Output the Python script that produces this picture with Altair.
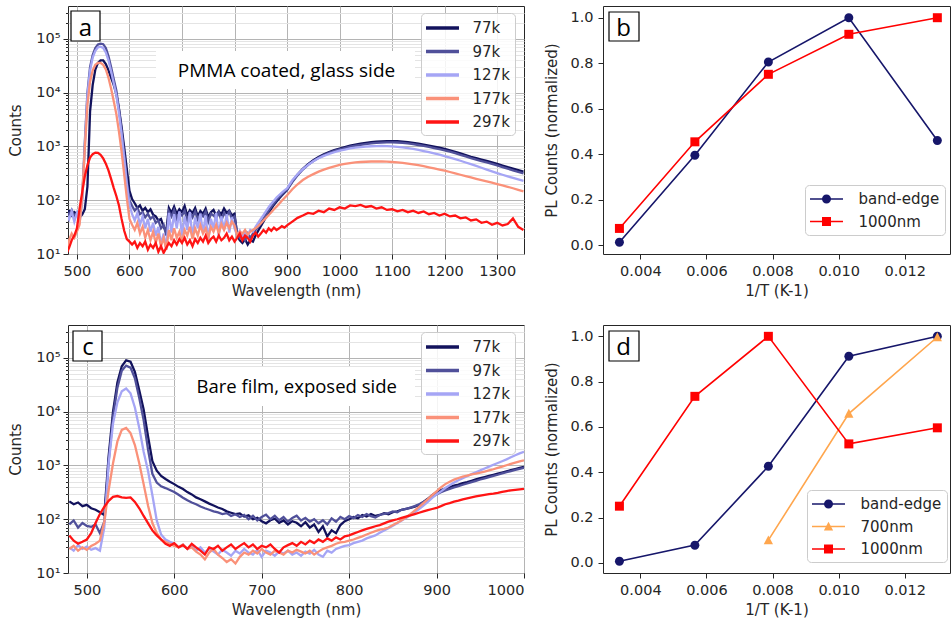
import altair as alt
import pandas as pd

# ---------------- spectra (panels a and c) ----------------
TEMPS = ["77k", "97k", "127k", "177k", "297k"]
SPEC_COLORS = ["#12125c", "#50509a", "#a5a5f5", "#fa9179", "#ff1414"]

WL_A = list(range(480, 901, 5)) + list(range(910, 1351, 10))

A77 = [58, 63, 52, 60, 55, 48, 54, 68, 180, 4500,
       14000, 27000, 36000, 40000, 40000, 34000, 26000, 19000, 14000, 9500,
       5000, 2300, 950, 380, 150, 105, 88, 72, 80, 64,
       72, 60, 68, 54, 50, 42, 45, 32, 26, 72,
       58, 76, 56, 68, 60, 78, 52, 65, 58, 72,
       50, 63, 56, 70, 48, 60, 66, 52, 62, 55,
       70, 58, 64, 52, 56, 22, 18, 16, 19, 15,
       18, 17, 22, 27, 33, 40, 49, 58, 70, 82,
       95, 108, 122, 138, 155,
       225, 300, 385, 470, 555, 640, 715, 790, 860, 915,
       975, 1035, 1085, 1130, 1165, 1200, 1225, 1245, 1260, 1262,
       1250, 1232, 1205, 1165, 1125, 1082, 1035, 992, 948, 900,
       850, 795, 742, 690, 642, 605, 570, 538, 505, 476,
       442, 412, 386, 362, 340]
A97 = [60, 54, 66, 50, 58, 44, 110, 1200, 10000, 30000,
       50000, 68000, 79000, 82000, 80000, 68000, 48000, 30000, 18000, 11000,
       5000, 2000, 700, 220, 100, 78, 64, 72, 55, 60,
       48, 56, 45, 50, 38, 42, 30, 35, 22, 62,
       50, 66, 45, 58, 52, 64, 42, 58, 48, 62,
       44, 55, 50, 62, 40, 56, 52, 46, 60, 42,
       58, 50, 62, 45, 50, 25, 20, 22, 18, 24,
       20, 24, 28, 32, 38, 45, 54, 64, 76, 88,
       102, 115, 128, 143, 158,
       218, 292, 372, 455, 535, 615, 690, 760, 825, 880,
       935, 990, 1035, 1075, 1110, 1140, 1162, 1180, 1192, 1195,
       1185, 1168, 1140, 1105, 1065, 1022, 978, 935, 892, 848,
       800, 750, 700, 652, 606, 568, 535, 504, 474, 445,
       414, 386, 360, 336, 315]
A127 = [55, 44, 62, 40, 58, 38, 90, 1000, 9000, 26000,
        45000, 60000, 70000, 72000, 68000, 56000, 40000, 25000, 15000, 9000,
        4200, 1700, 600, 200, 85, 55, 42, 58, 35, 50,
        30, 45, 26, 38, 22, 32, 15, 24, 12, 58,
        25, 55, 30, 62, 22, 50, 28, 60, 20, 48,
        30, 56, 24, 52, 18, 45, 30, 58, 22, 50,
        28, 55, 25, 48, 30, 22, 27, 20, 25, 22,
        28, 26, 32, 38, 45, 53, 63, 74, 86, 98,
        112, 125, 138, 152, 166,
        235, 305, 378, 455, 532, 603, 668, 730, 786, 836,
        878, 918, 950, 976, 995, 1010, 1018, 1020, 1012, 1000,
        982, 960, 932, 900, 862, 822, 782, 742, 702, 662,
        622, 582, 542, 504, 468, 434, 402, 372, 345, 320,
        298, 278, 260, 244, 230]
A177 = [11, 18, 24, 20, 26, 35, 120, 900, 6000, 16000,
        26000, 33000, 36000, 36000, 33000, 27000, 19000, 12000, 7000, 4000,
        1900, 800, 300, 110, 45, 35, 28, 38, 24, 32,
        20, 28, 18, 26, 16, 24, 14, 20, 12, 28,
        18, 30, 20, 26, 17, 28, 22, 32, 19, 30,
        22, 34, 24, 30, 20, 32, 26, 35, 24, 36,
        28, 38, 30, 40, 34, 22, 26, 24, 28, 23,
        26, 28, 30, 33, 37, 42, 47, 53, 60, 68,
        76, 86, 98, 110, 124,
        160, 198, 238, 274, 306, 340, 370, 400, 428, 455,
        475, 492, 505, 514, 520, 525, 527, 525, 521, 514,
        505, 494, 480, 465, 448, 430, 410, 391, 372, 354,
        335, 316, 298, 281, 265, 250, 237, 224, 212, 200,
        189, 178, 167, 156, 146]
A297 = [10, 13, 18, 22, 30, 70, 140, 280, 450, 620,
        720, 770, 760, 700, 600, 480, 360, 250, 170, 120,
        80, 45, 27, 19, 17, 15, 17, 13, 16, 14,
        17, 12, 15, 13, 16, 11, 14, 10.5, 13, 16,
        14, 18, 15, 19, 16, 20, 15, 18, 14, 19,
        16, 20, 17, 22, 16, 19, 21, 17, 22, 18,
        20, 24, 18, 21, 17, 20, 24, 18, 22, 20,
        17, 22, 25, 21, 24, 28, 25, 30, 27, 31,
        28, 30, 33, 31, 34,
        40, 47, 52, 58, 56, 64, 60, 70, 66, 74,
        70, 80, 78, 82, 75, 78, 70, 74, 66, 68,
        62, 66, 60, 64, 58, 62, 55, 58, 52, 56,
        50, 52, 46, 48, 42, 44, 38, 40, 35, 38,
        34, 36, 46, 32, 28]

WL_C = list(range(480, 1001, 5))

C77 = [215, 190, 205, 175, 185, 160, 150, 135, 120, 1500,
       10000, 35000, 70000, 90000, 85000, 55000, 25000, 11000, 3500, 1200,
       800, 640, 560, 500, 450, 400, 365, 320, 290, 255,
       235, 215, 195, 180, 165, 155, 140, 132, 125, 128,
       112, 118, 100, 106, 92, 84, 96, 102, 86, 95,
       80, 92, 86, 74, 88, 70, 80, 58, 74, 48,
       62, 55, 78, 92, 100, 110, 104, 120, 112, 125,
       115, 120, 130, 124, 135, 140, 150, 156, 162, 172,
       185, 210, 240, 280, 320, 350, 372, 395, 420, 440,
       470, 490, 520, 550, 580, 610, 640, 672, 705, 740,
       780, 820, 860, 900, 940]
C97 = [80, 95, 70, 85, 75, 72, 80, 55, 90, 1200,
       8000, 28000, 58000, 72000, 66000, 42000, 18000, 7000, 2000, 700,
       480, 410, 380, 350, 320, 285, 252, 225, 205, 190,
       172, 160, 150, 140, 134, 125, 130, 115, 124, 110,
       120, 100, 116, 95, 110, 122, 100, 116, 96, 110,
       90, 106, 116, 95, 106, 90, 100, 84, 96, 80,
       104, 90, 110, 100, 115, 105, 120, 110, 125, 114,
       108, 120, 126, 130, 140, 135, 150, 155, 165, 175,
       190, 210, 230, 258, 290, 318, 345, 368, 390, 412,
       438, 462, 490, 518, 548, 578, 608, 640, 672, 710,
       748, 788, 828, 866, 900]
C127 = [30, 26, 33, 28, 31, 27, 29, 26, 70, 1100,
        6000, 15000, 24000, 27000, 22000, 12000, 5000, 1800, 800, 280,
        95, 52, 42, 38, 35, 30, 34, 28, 32, 26,
        30, 24, 28, 25, 22, 27, 24, 21, 26, 23,
        28, 24, 22, 27, 20, 26, 24, 21, 25, 23,
        26, 22, 24, 21, 25, 23, 27, 22, 20, 26,
        24, 28, 30, 32, 33, 36, 38, 40, 44, 47,
        50, 56, 62, 68, 76, 84, 95, 105, 118, 135,
        155, 180, 210, 250, 290, 330, 380, 430, 480, 530,
        580, 630, 690, 750, 810, 880, 950, 1030, 1110, 1200,
        1300, 1420, 1550, 1680, 1800]
C177 = [28, 32, 26, 30, 27, 32, 35, 40, 90, 350,
        1100, 2800, 4600, 5000, 4000, 2400, 1100, 450, 180, 85,
        55, 42, 38, 35, 32, 30, 34, 28, 30, 25,
        22, 18, 24, 28, 22, 19, 16, 18, 15, 20,
        24, 22, 26, 23, 28, 24, 22, 26, 24, 22,
        26, 24, 27, 25, 23, 26, 22, 25, 28, 30,
        32, 35, 37, 38, 40, 42, 45, 48, 52, 56,
        60, 64, 66, 70, 78, 86, 96, 108, 124, 145,
        170, 200, 237, 280, 330, 390, 450, 500, 545, 585,
        620, 650, 680, 705, 735, 770, 810, 850, 900, 950,
        1010, 1070, 1130, 1190, 1250]
C297 = [50, 40, 35, 38, 42, 55, 85, 125, 170, 220,
        260, 270, 255, 250, 255, 210, 160, 115, 85, 62,
        50, 42, 35, 32, 36, 30, 33, 28, 35, 30,
        26, 22, 30, 28, 32, 26, 30, 34, 28, 32,
        36, 30, 34, 28, 32, 30, 34, 28, 24, 30,
        33, 36, 32, 38, 34, 40, 36, 42, 38, 44,
        40, 46, 42, 48, 50, 54, 58, 62, 66, 70,
        74, 78, 84, 90, 95, 100, 106, 112, 118, 125,
        132, 140, 148, 155, 162, 175, 190, 200, 212, 222,
        235, 245, 255, 265, 275, 285, 292, 300, 310, 322,
        335, 345, 352, 360, 368]

# log-axis ticks: decades (labelled) and minor ticks
Y_MAJOR = [10, 100, 1000, 10000, 100000]
Y_MINOR = [20, 30, 40, 50, 60, 70, 80, 90,
           200, 300, 400, 500, 600, 700, 800, 900,
           2000, 3000, 4000, 5000, 6000, 7000, 8000, 9000,
           20000, 30000, 40000, 50000, 60000, 70000, 80000, 90000,
           200000, 300000]
X_TICKS_A = [500, 600, 700, 800, 900, 1000, 1100, 1200, 1300]
X_TICKS_C = [500, 600, 700, 800, 900, 1000]

# ---------------- temperature dependence (panels b and d) ----------------
INV_T = [0.003367, 0.005650, 0.007874, 0.010309, 0.012987]  # 297,177,127,97,77 K
B_BAND = [0.012, 0.395, 0.805, 1.0, 0.46]
B_1000 = [0.073, 0.454, 0.751, 0.927, 1.0]
D_BAND = [0.007, 0.078, 0.426, 0.912, 1.0]
D_700 = [None, None, 0.10, 0.659, 0.997]
D_1000 = [0.25, 0.735, 1.0, 0.525, 0.596]
X_TICKS_T = [0.004, 0.006, 0.008, 0.010, 0.012]
Y_TICKS_T = [0.0, 0.2, 0.4, 0.6, 0.8, 1.0]

NAVY = "#16166a"
RED = "#ff0000"
ORANGE = "#ffa64d"

CIRCLE = "M-0.545,0A0.545,0.545,0,1,1,0.545,0A0.545,0.545,0,1,1,-0.545,0Z"
SQUARE = "M-0.545,-0.545L0.545,-0.545L0.545,0.545L-0.545,0.545Z"
TRIANGLE = "M0,-0.58L0.56,0.5L-0.56,0.5Z"
LINE_SYM = "M-2,0L2,0"

GRID = "#b4b4b4"
MINOR_GRID = "#e4e4e4"
INK = "#262626"
NOTE_FONT = "Open Sans"


def long_spectra(wl, names, arrays):
    rows = []
    for n, arr in zip(names, arrays):
        assert len(arr) == len(wl), (n, len(arr), len(wl))
        for w, v in zip(wl, arr):
            rows.append({"wl": w, "counts": v, "temp": n})
    return pd.DataFrame(rows)


def long_temp(names, arrays):
    rows = []
    for n, arr in zip(names, arrays):
        for x, v in zip(INV_T, arr):
            if v is not None:
                rows.append({"invT": x, "pl": v, "series": n})
    return pd.DataFrame(rows)


def letter_layers(letter, box, cx, by):
    one = pd.DataFrame({"t": [letter]})
    rect = alt.Chart(one).mark_rect(fill="white", stroke="black", strokeWidth=1.2).encode(
        x=alt.value(box[0]), x2=alt.value(box[2]), y=alt.value(box[1]), y2=alt.value(box[3]))
    txt = alt.Chart(one).mark_text(font=NOTE_FONT, fontSize=24, color="black",
                                   align="center", baseline="alphabetic").encode(
        x=alt.value(cx), y=alt.value(by), text="t:N")
    return [rect, txt]


def spectra_panel(df, xdom, xticks, width, letter, lbox, lcx, lby,
                  note, nbox, ncx, nby, nsize, legxy):
    major_test = "indexof([10,100,1000,10000,100000], datum.value) >= 0"
    label_expr = ("datum.value == 10 ? '10¹' : datum.value == 100 ? '10²' : "
                  "datum.value == 1000 ? '10³' : datum.value == 10000 ? '10⁴' : "
                  "datum.value == 100000 ? '10⁵' : ''")
    xenc = alt.X("wl:Q", scale=alt.Scale(domain=xdom, nice=False, zero=False),
                 axis=alt.Axis(values=xticks, format="d", title="Wavelength (nm)",
                               grid=True, gridColor=GRID, tickSize=5, labelPadding=5,
                               titlePadding=6))
    yenc = alt.Y("counts:Q", scale=alt.Scale(type="log", domain=[10, 410000], nice=False),
                 axis=alt.Axis(values=Y_MAJOR + Y_MINOR, labelExpr=label_expr,
                               labelOverlap=False, title="Counts",
                               gridColor={"condition": {"test": major_test, "value": GRID},
                                          "value": MINOR_GRID},
                               tickSize={"condition": {"test": major_test, "value": 5},
                                         "value": 2.5},
                               labelPadding=3, titlePadding=12))
    leg = alt.Legend(orient="none", legendX=legxy[0], legendY=legxy[1], title=None,
                     symbolType=LINE_SYM, symbolSize=272, symbolStrokeWidth=3.5,
                     symbolOffset=6.5, labelOffset=20, padding=5, rowPadding=5.5,
                     fillColor="rgba(255,255,255,0.85)", strokeColor="#cccccc",
                     cornerRadius=4, labelFontSize=15)
    col = alt.Color("temp:N", scale=alt.Scale(domain=TEMPS, range=SPEC_COLORS), legend=leg)
    lines = alt.layer(*[
        alt.Chart(df).transform_filter(alt.datum.temp == t)
        .mark_line(strokeWidth=2.3, clip=True).encode(x=xenc, y=yenc, color=col)
        for t in TEMPS])
    one = pd.DataFrame({"t": [note]})
    bg = alt.Chart(one).mark_rect(fill="white").encode(
        x=alt.value(nbox[0]), x2=alt.value(nbox[2]), y=alt.value(nbox[1]), y2=alt.value(nbox[3]))
    ntxt = alt.Chart(one).mark_text(font=NOTE_FONT, fontSize=nsize, color="black",
                                    align="center", baseline="alphabetic").encode(
        x=alt.value(ncx), y=alt.value(nby), text="t:N")
    return alt.layer(bg, ntxt, lines, *letter_layers(letter, lbox, lcx, lby)).properties(
        width=width, height=248)


def temp_panel(df, names, colors, shapes, ydom, letter, lbox, lcx, lby, legxy):
    xenc = alt.X("invT:Q", scale=alt.Scale(domain=[0.00287, 0.01337], nice=False, zero=False),
                 axis=alt.Axis(values=X_TICKS_T, format=".3f", title="1/T (K-1)", grid=False,
                               tickSize=5, labelPadding=5, titlePadding=6))
    yenc = alt.Y("pl:Q", scale=alt.Scale(domain=ydom, nice=False, zero=False),
                 axis=alt.Axis(values=Y_TICKS_T, format=".1f", title="PL Counts (normalized)",
                               grid=False, tickSize=5, labelPadding=5, titlePadding=10))
    common = dict(orient="none", legendX=legxy[0], legendY=legxy[1], title=None,
                  symbolSize=272, symbolStrokeWidth=1.5, symbolOffset=7.5, labelOffset=23,
                  padding=5, rowPadding=5.5, labelFontSize=15)
    line_leg = alt.Legend(symbolType=LINE_SYM, fillColor="rgba(255,255,255,0.85)",
                          strokeColor="#cccccc", cornerRadius=4, **common)
    pt_leg = alt.Legend(symbolStrokeColor="transparent", labelOpacity=0, **common)
    lines = alt.layer(*[
        alt.Chart(df).transform_filter(alt.datum.series == s)
        .mark_line(strokeWidth=1.6).encode(
            x=xenc, y=yenc,
            color=alt.Color("series:N", scale=alt.Scale(domain=names, range=colors),
                            legend=line_leg))
        for s in names])
    points = alt.Chart(df).mark_point(filled=True, size=272, opacity=1).encode(
        x=xenc, y=yenc,
        color=alt.Color("series:N", scale=alt.Scale(domain=names, range=colors), legend=pt_leg),
        shape=alt.Shape("series:N", scale=alt.Scale(domain=names, range=shapes), legend=pt_leg))
    return alt.layer(lines, points, *letter_layers(letter, lbox, lcx, lby)).resolve_scale(
        color="independent", shape="independent").properties(width=347, height=248)


df_a = long_spectra(WL_A, TEMPS, [A77, A97, A127, A177, A297])
df_c = long_spectra(WL_C, TEMPS, [C77, C97, C127, C177, C297])
df_b = long_temp(["band-edge", "1000nm"], [B_BAND, B_1000])
df_d = long_temp(["band-edge", "700nm", "1000nm"], [D_BAND, D_700, D_1000])

pa = spectra_panel(df_a, [483, 1351], X_TICKS_A, 456, "a", (3, 5, 32, 35), 17.5, 29.5,
                   "PMMA coated, glass side", (88, 45, 347, 83), 218.5, 71, 19, (353, 7))
pc = spectra_panel(df_c, [478.5, 1000], X_TICKS_C, 456, "c", (5, 6, 34, 36), 20, 30,
                   "Bare film, exposed side", (108, 42, 347, 81), 228.7, 68, 18.5, (353, 7))
pb = temp_panel(df_b, ["band-edge", "1000nm"], [NAVY, RED], [CIRCLE, SQUARE],
                [-0.0395, 1.0515], "b", (6, 6, 36, 35), 20.5, 29.5, (202, 179))
pd_ = temp_panel(df_d, ["band-edge", "700nm", "1000nm"], [NAVY, ORANGE, RED],
                 [CIRCLE, TRIANGLE, SQUARE], [-0.045, 1.05], "d", (6, 6, 36, 36), 20.5, 30,
                 (204, 165))

chart = alt.concat(pa, pb, pc, pd_, columns=2, spacing={"row": 71, "column": 79},
                   bounds="flush").resolve_scale(
    color="independent", shape="independent").resolve_legend(
    color="independent", shape="independent").properties(
    padding={"left": 8, "top": 4, "right": 0, "bottom": 0}
).configure_view(stroke=INK, strokeWidth=1).configure_axis(
    labelFont="DejaVu Sans", labelFontSize=14.5, labelColor=INK,
    titleFont="DejaVu Sans", titleFontSize=15, titleFontWeight="normal", titleColor=INK,
    tickColor=INK, tickWidth=1, domain=False
).configure_legend(labelFont="DejaVu Sans", labelColor=INK)

chart.save("out.html", embed_options={"renderer": "svg", "actions": False})
